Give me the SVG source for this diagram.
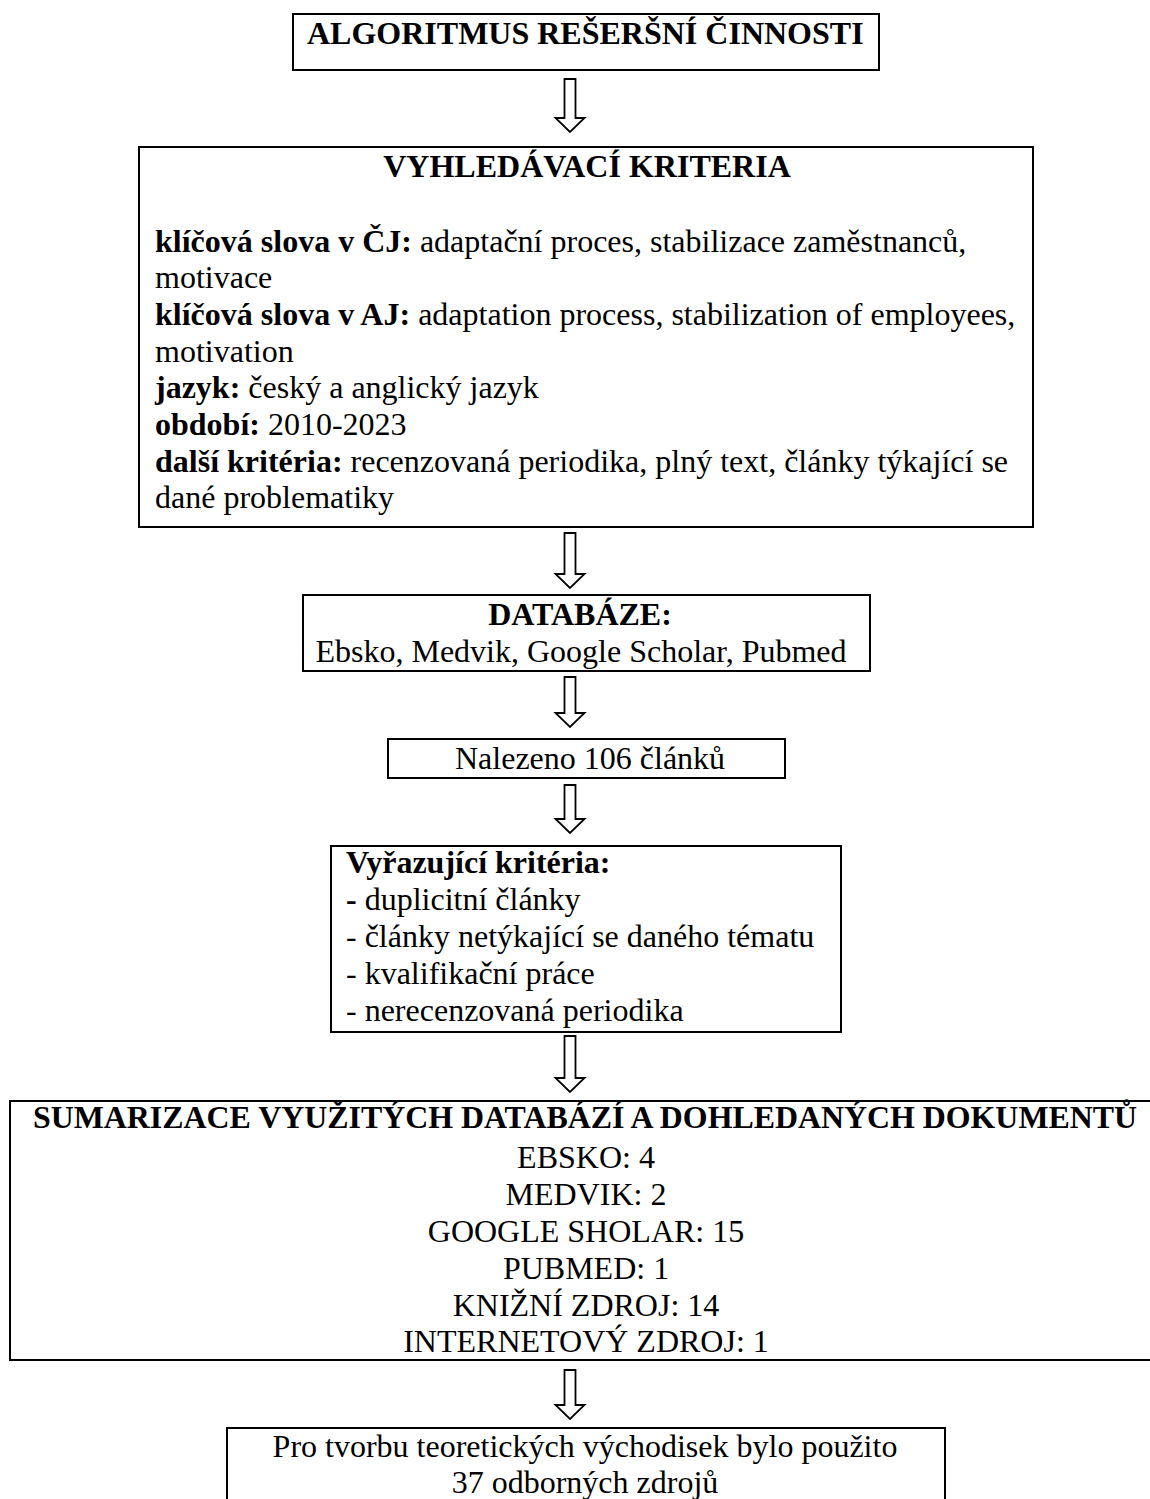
<svg xmlns="http://www.w3.org/2000/svg" width="1150" height="1499" viewBox="0 0 1150 1499">
  <style>
    .box { fill: #ffffff; stroke: #000000; stroke-width: 2; }
    .arrow { fill: #ffffff; stroke: #000000; stroke-width: 1.8; stroke-linejoin: miter; }
    text { font-family: "Liberation Serif", "Times New Roman", serif; font-size: 32px; fill: #000000; }
    .b { font-weight: bold; }
    .c { text-anchor: middle; }
  </style>
  <rect width="1150" height="1499" fill="#ffffff"/>

  <g id="connectors">
    <polygon class="arrow" points="564.5,79 575.5,79 575.5,118 584.5,118 570,132 555.5,118 564.5,118"/>
    <polygon class="arrow" points="564.5,533 575.5,533 575.5,574 584.5,574 570,588 555.5,574 564.5,574"/>
    <polygon class="arrow" points="564.5,677 575.5,677 575.5,713 584.5,713 570,727 555.5,713 564.5,713"/>
    <polygon class="arrow" points="564.5,785 575.5,785 575.5,819 584.5,819 570,833 555.5,819 564.5,819"/>
    <polygon class="arrow" points="564.5,1036 575.5,1036 575.5,1078 584.5,1078 570,1092 555.5,1078 564.5,1078"/>
    <polygon class="arrow" points="564.5,1370 575.5,1370 575.5,1405 584.5,1405 570,1419 555.5,1405 564.5,1405"/>
  </g>

  <g id="node-title">
    <rect class="box" x="293" y="14" width="586" height="56"/>
    <text class="b" x="307" y="44">ALGORITMUS REŠERŠNÍ ČINNOSTI</text>
  </g>

  <g id="node-criteria">
    <rect class="box" x="139" y="147" width="894" height="380"/>
    <text class="b c" x="587" y="177">VYHLEDÁVACÍ KRITERIA</text>
    <text x="155" y="251.5"><tspan class="b">klíčová slova v ČJ:</tspan> adaptační proces, stabilizace zaměstnanců,</text>
    <text x="155" y="288.2">motivace</text>
    <text x="155" y="324.9"><tspan class="b">klíčová slova v AJ:</tspan> adaptation process, stabilization of employees,</text>
    <text x="155" y="361.6">motivation</text>
    <text x="155" y="398.3"><tspan class="b">jazyk:</tspan> český a anglický jazyk</text>
    <text x="155" y="435"><tspan class="b">období:</tspan> 2010-2023</text>
    <text x="155" y="471.7"><tspan class="b">další kritéria:</tspan> recenzovaná periodika, plný text, články týkající se</text>
    <text x="155" y="508.4">dané problematiky</text>
  </g>

  <g id="node-databaze">
    <rect class="box" x="303" y="595" width="567" height="76"/>
    <text class="b c" x="580" y="625">DATABÁZE:</text>
    <text class="c" x="581" y="661.5">Ebsko, Medvik, Google Scholar, Pubmed</text>
  </g>

  <g id="node-nalezeno">
    <rect class="box" x="388" y="739" width="397" height="39"/>
    <text x="455" y="769">Nalezeno 106 článků</text>
  </g>

  <g id="node-vyrazujici">
    <rect class="box" x="331" y="846" width="510" height="186"/>
    <text class="b" x="346" y="873">Vyřazující kritéria:</text>
    <text x="346" y="910"><tspan class="b">-</tspan> duplicitní články</text>
    <text x="346" y="947">- články netýkající se daného tématu</text>
    <text x="346" y="984">- kvalifikační práce</text>
    <text x="346" y="1021">- nerecenzovaná periodika</text>
  </g>

  <g id="node-sumarizace">
    <rect class="box" x="10" y="1101" width="1152" height="259"/>
    <text class="b c" x="585" y="1128" textLength="1104" lengthAdjust="spacingAndGlyphs">SUMARIZACE VYUŽITÝCH DATABÁZÍ A DOHLEDANÝCH DOKUMENTŮ</text>
    <text class="c" x="586" y="1167.5">EBSKO: 4</text>
    <text class="c" x="586" y="1204.5">MEDVIK: 2</text>
    <text class="c" x="586" y="1241.5">GOOGLE SHOLAR: 15</text>
    <text class="c" x="586" y="1278.5">PUBMED: 1</text>
    <text class="c" x="586" y="1315.5">KNIŽNÍ ZDROJ: 14</text>
    <text class="c" x="586" y="1352">INTERNETOVÝ ZDROJ: 1</text>
  </g>

  <g id="node-zaver">
    <rect class="box" x="227" y="1428" width="718" height="90"/>
    <text class="c" x="585" y="1457">Pro tvorbu teoretických východisek bylo použito</text>
    <text class="c" x="585" y="1493">37 odborných zdrojů</text>
  </g>
</svg>
